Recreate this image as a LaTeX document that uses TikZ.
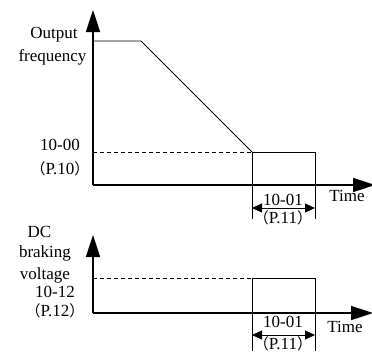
\documentclass[tikz,border=0pt]{standalone}
\usepackage{fontspec}
\setmainfont{Liberation Serif}
\newfontfamily\cjk{Noto Sans CJK SC}
\usetikzlibrary{arrows.meta}
\newcommand{\fp}[1]{{\cjk\fontsize{15}{17}\selectfont （}#1{\cjk\fontsize{15}{17}\selectfont ）}}

\begin{document}
\begin{tikzpicture}[x=1pt,y=-1pt,
  ax/.style={line width=1.6pt,-{Triangle[length=22pt,width=14pt]}},
  thin/.style={line width=0.8pt},
  dsh/.style={line width=0.8pt,dash pattern=on 4pt off 3pt},
  dim/.style={line width=0.8pt,{Triangle[length=10pt,width=9pt]}-{Triangle[length=10pt,width=9pt]}},
  lab/.style={font=\fontsize{17}{19}\selectfont,inner sep=0pt,text height=11.5pt,text depth=3.5pt}]
  \useasboundingbox (0,0) rectangle (372,354);
  \def\xo{93}\def\xa{252}\def\xb{315}
  % ---------- output frequency ----------
  \coordinate (O1) at (\xo,185);
  \coordinate (Y1) at (\xo,10);
  \coordinate (X1) at (375,185);
  \coordinate (F0) at (\xo,41);
  \coordinate (F1) at (141,41);
  \coordinate (F2) at (\xa,152);
  \coordinate (D0) at (\xo,152);
  \coordinate (R1) at (\xb,152);
  \coordinate (R2) at (\xb,185);
  \coordinate (L1) at (\xa,219);
  \coordinate (L2) at (\xb,219);
  \coordinate (A1) at (\xa,208);
  \coordinate (A2) at (\xb,208);
  \draw[thin] (F0) -- (F1) -- (F2);
  \draw[dsh] (D0) -- (F2);
  \draw[thin] (F2) -- (R1) -- (R2);
  \draw[thin] (F2) -- (L1);
  \draw[thin] (R2) -- (L2);
  \draw[dim] (A1) -- (A2);
  \draw[ax] (O1) -- (Y1);
  \draw[ax] (O1) -- (X1);
  \node[lab] (out) at (54,34) {Output};
  \node[lab] (frq) at (52.5,57) {frequency};
  \node[lab] (p1000) at (60,146) {10-00};
  \node[lab] (p10) at (60,170) {\fp{P.10}};
  \node[lab] (p1001a) at (283,201) {10-01};
  \node[lab] (p11a) at (283,219) {\fp{P.11}};
  \node[lab] (tma) at (347,197) {Time};
  % ---------- DC braking voltage ----------
  \coordinate (O2) at (\xo,313);
  \coordinate (Y2) at (\xo,235);
  \coordinate (X2) at (373,313);
  \coordinate (E0) at (\xo,278);
  \coordinate (E1) at (\xa,278);
  \coordinate (E2) at (\xb,278);
  \coordinate (E3) at (\xb,313);
  \coordinate (M1) at (\xa,351);
  \coordinate (M2) at (\xb,351);
  \coordinate (B1) at (\xa,335);
  \coordinate (B2) at (\xb,335);
  \draw[dsh] (E0) -- (E1);
  \draw[thin] (E1) -- (E2) -- (E3);
  \draw[thin] (E1) -- (M1);
  \draw[thin] (E3) -- (M2);
  \draw[dim] (B1) -- (B2);
  \draw[ax] (O2) -- (Y2);
  \draw[ax] (O2) -- (X2);
  \node[lab] (dc) at (39.5,233) {DC};
  \node[lab] (brk) at (45,253) {braking};
  \node[lab] (vlt) at (45,275) {voltage};
  \node[lab] (p1012) at (55,293) {10-12};
  \node[lab] (p12) at (55,312) {\fp{P.12}};
  \node[lab] (p1001b) at (283,323) {10-01};
  \node[lab] (p11b) at (283,345) {\fp{P.11}};
  \node[lab] (tmb) at (345,328) {Time};
\end{tikzpicture}
\end{document}
